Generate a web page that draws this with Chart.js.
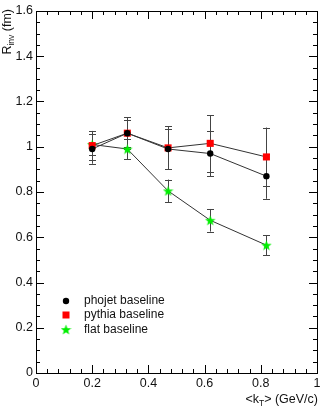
<!DOCTYPE html>
<html>
<head>
<meta charset="utf-8">
<script src="https://cdn.jsdelivr.net/npm/chart.js@4.4.0/dist/chart.umd.min.js"></script>
<style>
  html, body { margin: 0; padding: 0; background: #fff; }
  #wrap { width: 330px; height: 407px; }
</style>
</head>
<body>
<div id="wrap"><canvas id="ktChart" width="330" height="407"></canvas></div>
<script>
// values
const ktValues = [0.2, 0.325, 0.47, 0.62, 0.82];
const phojetR = [0.99, 1.06, 0.99, 0.97, 0.87];
const phojetErr = [0.065, 0.06, 0.09, 0.10, 0.10];
const pythiaR = [1.005, 1.06, 0.995, 1.015, 0.955];
const pythiaErr = [0.065, 0.07, 0.095, 0.125, 0.13];
const flatR = [1.01, 0.99, 0.805, 0.675, 0.565];
const flatErr = [0.045, 0.045, 0.05, 0.05, 0.045];
const legendLabels = ['phojet baseline', 'pythia baseline', 'flat baseline'];

const FONT = 'Liberation Sans, Arial, sans-serif';
const AXIS_SIZE = 12.5;

function starImage(size, color) {
    const c = document.createElement('canvas');
    c.width = size;
    c.height = size;
    const g = c.getContext('2d');
    const cx = size / 2, cy = size / 2 + 0.5, ro = size / 2, ri = ro * 0.42;
    g.beginPath();
    for (let i = 0; i < 10; i++) {
        const r = i % 2 ? ri : ro;
        const a = -Math.PI / 2 + i * Math.PI / 5;
        g.lineTo(cx + r * Math.cos(a), cy + r * Math.sin(a));
    }
    g.closePath();
    g.fillStyle = color;
    g.fill();
    return c;
}
const star = starImage(11, '#00ee00');

function toPoints(ys) {
    return ktValues.map((x, i) => ({ x: x, y: ys[i] }));
}

const errors = [phojetErr, pythiaErr, flatErr];

// error bars, drawn with the chart scales
const errorBars = {
    id: 'errorBars',
    beforeDatasetsDraw(chart) {
        const { ctx, scales: { x, y } } = chart;
        ctx.save();
        ctx.strokeStyle = '#444';
        ctx.lineWidth = 1;
        chart.data.datasets.forEach((ds, di) => {
            ds.data.forEach((p, i) => {
                const e = errors[di][i];
                const px = Math.round(x.getPixelForValue(p.x)) + 0.5;
                const y1 = y.getPixelForValue(p.y - e);
                const y2 = y.getPixelForValue(p.y + e);
                ctx.beginPath();
                ctx.moveTo(px, y1); ctx.lineTo(px, y2);
                ctx.moveTo(px - 3.5, Math.round(y1) + 0.5); ctx.lineTo(px + 3.5, Math.round(y1) + 0.5);
                ctx.moveTo(px - 3.5, Math.round(y2) + 0.5); ctx.lineTo(px + 3.5, Math.round(y2) + 0.5);
                ctx.stroke();
            });
        });
        ctx.restore();
    }
};

// ROOT style frame: inward ticks on all sides, titles, legend
const frame = {
    id: 'frame',
    afterDraw(chart) {
        const { ctx, chartArea: a, scales: { x, y } } = chart;
        ctx.save();
        ctx.strokeStyle = '#000';
        ctx.lineWidth = 1;
        ctx.beginPath();
        ctx.rect(Math.round(a.left) + 0.5, Math.round(a.top) + 0.5,
            Math.round(a.right - a.left), Math.round(a.bottom - a.top));
        ctx.stroke();

        ctx.beginPath();
        for (let k = 0; k <= 32; k++) {
            const v = k * 0.05;
            const py = Math.round(y.getPixelForValue(v)) + 0.5;
            const len = k % 4 === 0 ? 8 : 4;
            ctx.moveTo(a.left, py); ctx.lineTo(a.left + len, py);
            ctx.moveTo(a.right, py); ctx.lineTo(a.right - len, py);
        }
        for (let k = 0; k <= 25; k++) {
            const v = k * 0.04;
            const px = Math.round(x.getPixelForValue(v)) + 0.5;
            const len = k % 5 === 0 ? 8 : 4;
            ctx.moveTo(px, a.bottom); ctx.lineTo(px, a.bottom - len);
            ctx.moveTo(px, a.top); ctx.lineTo(px, a.top + len);
        }
        ctx.stroke();

        const big = AXIS_SIZE + 'px ' + FONT;
        const small = '8.5px ' + FONT;
        ctx.fillStyle = '#111';
        // x title: <kT> (GeV/c), right aligned
        ctx.textBaseline = 'alphabetic';
        ctx.textAlign = 'left';
        const s1 = '<k', s3 = '> (GeV/c)';
        ctx.font = small;
        const wSub = ctx.measureText('T').width;
        ctx.font = big;
        const w1 = ctx.measureText(s1).width, w3 = ctx.measureText(s3).width;
        const tx = a.right + 1 - (w1 + wSub + w3);
        const ty = 403;
        ctx.fillText(s1, tx, ty);
        ctx.font = small;
        ctx.fillText('T', tx + w1, ty + 3);
        ctx.font = big;
        ctx.fillText(s3, tx + w1 + wSub, ty);

        // y title: Rinv (fm), rotated, top aligned
        ctx.save();
        ctx.translate(11, 9);
        ctx.rotate(-Math.PI / 2);
        const r1 = 'R', r3 = ' (fm)';
        ctx.font = small;
        const wInv = ctx.measureText('inv').width;
        ctx.font = big;
        const wr1 = ctx.measureText(r1).width, wr3 = ctx.measureText(r3).width;
        const rx = -(wr1 + wInv + wr3);
        ctx.fillText(r1, rx, 0);
        ctx.font = small;
        ctx.fillText('inv', rx + wr1, 3);
        ctx.font = big;
        ctx.fillText(r3, rx + wr1 + wInv, 0);
        ctx.restore();

        // legend
        const rows = [301, 315, 330];
        const mx = 66;
        ctx.fillStyle = '#000';
        ctx.beginPath();
        ctx.arc(mx, rows[0], 3.2, 0, Math.PI * 2);
        ctx.fill();
        ctx.fillStyle = '#ff0000';
        ctx.fillRect(mx - 3.5, rows[1] - 3.5, 7, 7);
        ctx.drawImage(star, mx - 5.5, rows[2] - 6);
        ctx.fillStyle = '#111';
        ctx.font = '12px ' + FONT;
        ctx.textBaseline = 'middle';
        legendLabels.forEach((t, i) => ctx.fillText(t, 84, rows[i]));
        ctx.restore();
    }
};

new Chart(document.getElementById('ktChart'), {
    type: 'line',
    data: {
        datasets: [
            {
                label: legendLabels[0],
                data: toPoints(phojetR),
                borderColor: '#333',
                borderWidth: 1,
                pointStyle: 'circle',
                pointRadius: 3.2,
                pointBackgroundColor: '#000',
                pointBorderColor: '#000',
                pointBorderWidth: 0
            },
            {
                label: legendLabels[1],
                data: toPoints(pythiaR),
                borderColor: '#333',
                borderWidth: 1,
                pointStyle: 'rect',
                pointRadius: 5,
                pointBackgroundColor: '#ff0000',
                pointBorderColor: '#ff0000',
                pointBorderWidth: 0
            },
            {
                label: legendLabels[2],
                data: toPoints(flatR),
                borderColor: '#333',
                borderWidth: 1,
                pointStyle: star,
                pointRadius: 5
            }
        ]
    },
    options: {
        responsive: false,
        animation: false,
        devicePixelRatio: 1,
        layout: { padding: { top: 11, right: 13, left: 0, bottom: 0 } },
        plugins: { legend: { display: false }, tooltip: { enabled: false } },
        scales: {
            x: {
                type: 'linear',
                min: 0,
                max: 1,
                afterFit(scale) { scale.height = 34; },
                ticks: {
                    stepSize: 0.2,
                    padding: 3,
                    color: '#111',
                    font: { family: FONT, size: AXIS_SIZE },
                    maxRotation: 0,
                    callback: v => String(+v.toFixed(1))
                },
                grid: { display: false, drawTicks: false },
                border: { display: true, color: '#000' }
            },
            y: {
                min: 0,
                max: 1.6,
                afterFit(scale) { scale.width = 36; },
                ticks: {
                    stepSize: 0.2,
                    padding: 3,
                    color: '#111',
                    font: { family: FONT, size: AXIS_SIZE },
                    callback: v => String(+v.toFixed(1))
                },
                grid: { display: false, drawTicks: false },
                border: { display: true, color: '#000' }
            }
        }
    },
    plugins: [errorBars, frame]
});
</script>
</body>
</html>
